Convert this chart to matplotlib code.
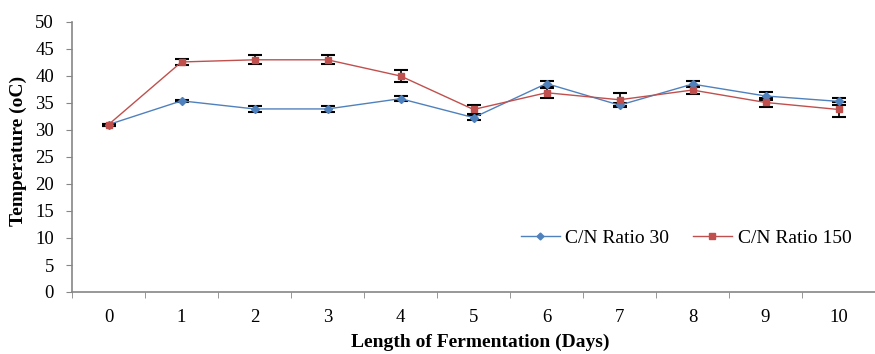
import matplotlib
matplotlib.use("Agg")
import matplotlib.pyplot as plt
from matplotlib.lines import Line2D
import numpy as np

days = [0, 1, 2, 3, 4, 5, 6, 7, 8, 9, 10]
cn30 = [31.0, 35.4, 33.9, 33.9, 35.8, 32.3, 38.6, 34.6, 38.5, 36.3, 35.3]
cn30_err = [0.2, 0.2, 0.6, 0.5, 0.5, 0.4, 0.55, 0.4, 0.55, 0.7, 0.6]
cn150 = [31.0, 42.6, 43.0, 43.0, 40.0, 33.8, 36.9, 35.6, 37.4, 35.1, 33.8]
cn150_err = [0.2, 0.6, 0.85, 0.85, 1.2, 0.9, 0.9, 1.2, 0.8, 0.85, 1.3]
yticks = [0, 5, 10, 15, 20, 25, 30, 35, 40, 45, 50]
labels = ['C/N Ratio 30', 'C/N Ratio 150']

plt.rcParams['font.family'] = ['Liberation Serif', 'DejaVu Serif']

fig = plt.figure(figsize=(8.75, 3.54), dpi=100)
ax = fig.add_axes([72/875, 1-292/354, 1-72/875, (292-22)/354])

blue = '#4F81BD'
red = '#C0504D'

ax.errorbar(days, cn30, yerr=cn30_err, color=blue, lw=1.0, marker='D', ms=4,
            ecolor='black', elinewidth=1.2, capsize=5, capthick=1.5, zorder=3)
ax.errorbar(days, cn150, yerr=cn150_err, color=red, lw=1.0, marker='s', ms=4.5,
            ecolor='black', elinewidth=1.2, capsize=5, capthick=1.5, zorder=3)

ax.set_xlim(-0.5, (875-72)/74.3 - 0.5)
ax.set_ylim(0, 50)
ax.set_yticks(yticks)
ax.set_xticks(days)
ax.set_xticks(np.arange(-0.5, 10.6, 1), minor=True)
ax.tick_params(axis='x', which='major', length=0, pad=12, labelsize=13.5)
ax.tick_params(axis='x', which='minor', length=4, color='#868686', direction='out')
ax.tick_params(axis='y', length=4, color='#868686', direction='out', labelsize=13.5, pad=9)

for s in ['top', 'right']:
    ax.spines[s].set_visible(False)
for s in ['left', 'bottom']:
    ax.spines[s].set_color('#868686')
    ax.spines[s].set_linewidth(1.2)

fig.text(18/875, 1-151/354, 'Temperature (oC)', rotation=90, ha='center', va='center',
         fontsize=14, fontweight='bold')
fig.text(480/875, 1-342/354, 'Length of Fermentation (Days)', ha='center', va='center',
         fontsize=14, fontweight='bold')

handles = [Line2D([], [], color=blue, lw=1.0, marker='D', ms=3.5),
           Line2D([], [], color=red, lw=1.0, marker='s', ms=4)]
ax.legend(handles, labels, loc='center', bbox_to_anchor=(686/875, 1-237.7/354),
          bbox_transform=fig.transFigure, ncol=2, frameon=False,
          fontsize=14, handlelength=2.0, handletextpad=0.3, columnspacing=1.2)

fig.savefig('out.png', dpi=100)
